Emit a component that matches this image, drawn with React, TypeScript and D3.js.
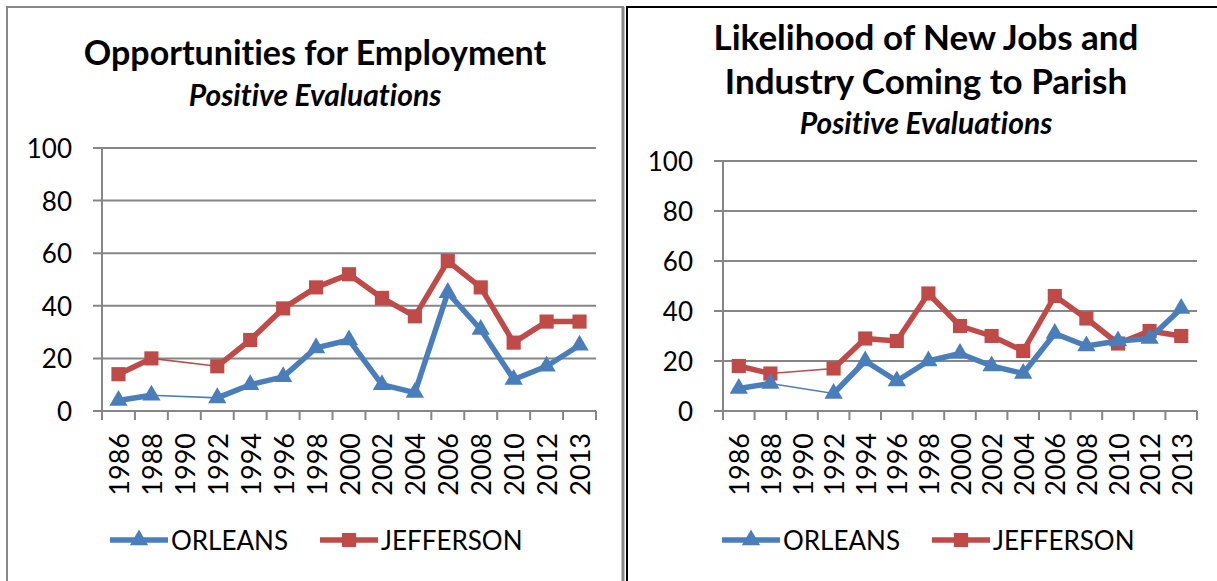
import React from 'react';
import * as d3 from 'd3';

// data
const years = ['1986', '1988', '1990', '1992', '1994', '1996', '1998', '2000', '2002', '2004', '2006', '2008', '2010', '2012', '2013'];
const employmentOrleans = [4, 6, null, 5, 10, 13, 24, 27, 10, 7, 45, 31, 12, 17, 25];
const employmentJefferson = [14, 20, null, 17, 27, 39, 47, 52, 43, 36, 57, 47, 26, 34, 34];
const newJobsOrleans = [9, 11, null, 7, 20, 12, 20, 23, 18, 15, 31, 26, 28, 29, 41];
const newJobsJefferson = [18, 15, null, 17, 29, 28, 47, 34, 30, 24, 46, 37, 27, 32, 30];
const yTicks = [0, 20, 40, 60, 80, 100];
const seriesNames = ['ORLEANS', 'JEFFERSON'];

const BLUE = '#4a7ebb';
const RED = '#be4b48';
const GRID = '#868686';
const FONT = 'Lato, "Open Sans", sans-serif';

const triangle = d3.symbol(d3.symbolTriangle, 145)();
const square = d3.symbol(d3.symbolSquare, 200)();

type Layout = {
  titles: { text: string; y: number }[];
  titleSize: number;
  subtitleY: number;
  cx: number;
  left: number;
  right: number;
  top: number;
  bottom: number;
  legendX: number;
  legendY: number;
};

function Series({ values, x, y, color, marker }: any) {
  const pts = values.map((v: number | null, i: number) => ({ v, i }));
  const thick = d3.line<any>()
    .defined(d => d.v != null)
    .x(d => x(years[d.i])! + x.bandwidth() / 2)
    .y(d => y(d.v));
  // thin line bridges the missing 1990 survey
  const thin = d3.line<any>()
    .x(d => x(years[d.i])! + x.bandwidth() / 2)
    .y(d => y(d.v));
  return (
    <g>
      <path d={thin(pts.filter((d: any) => d.v != null))!} fill="none" stroke={color} strokeWidth={1.6} />
      <path d={thick(pts)!} fill="none" stroke={color} strokeWidth={5.5} strokeLinejoin="round" />
      {pts.filter((d: any) => d.v != null).map((d: any) => (
        <path key={d.i} d={marker} fill={color}
          transform={`translate(${x(years[d.i])! + x.bandwidth() / 2},${y(d.v)})`} />
      ))}
    </g>
  );
}

function Chart({ layout, orleans, jefferson }: { layout: Layout; orleans: (number | null)[]; jefferson: (number | null)[] }) {
  const { left, right, top, bottom } = layout;
  const x = d3.scaleBand().domain(years).range([left, right]);
  const y = d3.scaleLinear().domain([0, 100]).range([bottom, top]);
  const tickXs = years.map(yr => x(yr)!).concat([right]);
  return (
    <g fontFamily={FONT} style={{ fontVariantLigatures: 'none' }}>
      {layout.titles.map(t => (
        <text key={t.text} x={layout.cx} y={t.y} textAnchor="middle" fontWeight="bold" fontSize={layout.titleSize} dominantBaseline="central">{t.text}</text>
      ))}
      <text x={layout.cx} y={layout.subtitleY} textAnchor="middle" fontWeight="bold" fontStyle="italic" fontSize={30} dominantBaseline="central">Positive Evaluations</text>
      {yTicks.map(t => (
        <g key={t}>
          <line x1={left - 9} x2={right} y1={y(t)} y2={y(t)} stroke={GRID} strokeWidth={2} />
          <text x={left - 30} y={y(t)} textAnchor="end" dominantBaseline="central" fontSize={26}>{t}</text>
        </g>
      ))}
      <line x1={left} x2={left} y1={top} y2={bottom} stroke={GRID} strokeWidth={2} />
      {tickXs.map((tx, i) => (
        <line key={i} x1={tx} x2={tx} y1={bottom} y2={bottom + 9} stroke={GRID} strokeWidth={2} />
      ))}
      {years.map(yr => (
        <text key={yr} transform={`translate(${x(yr)! + x.bandwidth() / 2},${bottom + 22}) rotate(-90)`}
          textAnchor="end" dominantBaseline="central" fontSize={27}>{yr}</text>
      ))}
      <Series values={jefferson} x={x} y={y} color={RED} marker={square} />
      <Series values={orleans} x={x} y={y} color={BLUE} marker={triangle} />
      {seriesNames.map((name, i) => {
        const lx = layout.legendX + i * 210;
        const color = i === 0 ? BLUE : RED;
        return (
          <g key={name}>
            <line x1={lx} x2={lx + 58} y1={layout.legendY} y2={layout.legendY} stroke={color} strokeWidth={5.5} />
            <path d={i === 0 ? triangle : square} fill={color} transform={`translate(${lx + 29},${layout.legendY})`} />
            <text x={lx + 61} y={layout.legendY} dominantBaseline="central" fontSize={26}>{name}</text>
          </g>
        );
      })}
    </g>
  );
}

const leftLayout: Layout = {
  titles: [{ text: 'Opportunities for Employment', y: 51 }],
  titleSize: 34,
  subtitleY: 94,
  cx: 315,
  left: 102,
  right: 596,
  top: 148,
  bottom: 411,
  legendX: 110,
  legendY: 540,
};

const rightLayout: Layout = {
  titles: [
    { text: 'Likelihood of New Jobs and', y: 36 },
    { text: 'Industry Coming to Parish', y: 80 },
  ],
  titleSize: 35,
  subtitleY: 122,
  cx: 926,
  left: 723,
  right: 1197,
  top: 161,
  bottom: 411,
  legendX: 722,
  legendY: 540,
};

export default function App() {
  return (
    <svg width={1217} height={581} style={{ position: 'absolute', left: 0, top: 0, background: '#fff' }}>
      <rect x={0} y={0} width={1217} height={581} fill="#fff" />
      <path d="M7,590 V7 H623 V590" fill="none" stroke="#888" strokeWidth={2} />
      <line x1={623} x2={623} y1={7} y2={590} stroke="#888" strokeWidth={3} />
      <path d="M627,590 V7 H1217" fill="none" stroke="#000" strokeWidth={2} />
      <Chart layout={leftLayout} orleans={employmentOrleans} jefferson={employmentJefferson} />
      <Chart layout={rightLayout} orleans={newJobsOrleans} jefferson={newJobsJefferson} />
    </svg>
  );
}
